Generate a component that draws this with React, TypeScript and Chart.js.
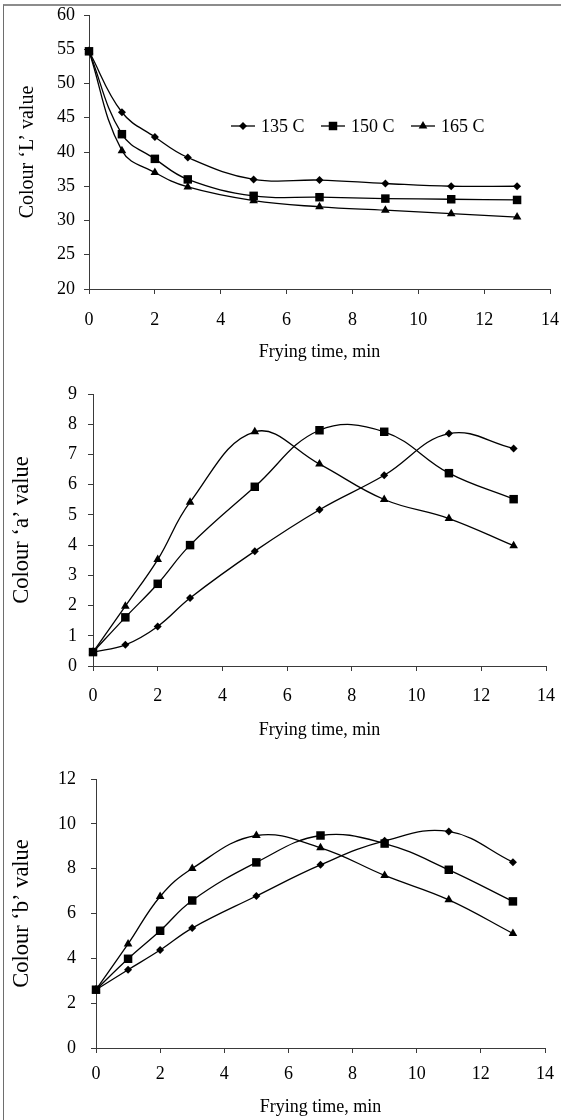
import React, { useEffect, useRef } from 'react';
import { Chart, registerables } from 'chart.js';

Chart.register(...registerables);

// ---------------- data ----------------
const FRYING_TIME = [0, 1, 2, 3, 5, 7, 9, 11, 13];
const SERIES_LABELS = ['135 C', '150 C', '165 C'];
const POINT_STYLES = ['rectRot', 'rect', 'triangle'];
const POINT_RADII = [4, 6, 5];

const L_135 = [54.7, 45.8, 42.2, 39.2, 36.0, 35.9, 35.4, 35.0, 35.0];
const L_150 = [54.7, 42.6, 39.0, 36.0, 33.6, 33.4, 33.2, 33.1, 33.0];
const L_165 = [54.7, 40.2, 37.0, 34.9, 32.9, 32.0, 31.5, 31.0, 30.5];

const A_135 = [0.46, 0.7, 1.31, 2.25, 3.8, 5.17, 6.31, 7.69, 7.2];
const A_150 = [0.46, 1.61, 2.72, 4.0, 5.93, 7.8, 7.75, 6.38, 5.52];
const A_165 = [0.46, 1.98, 3.52, 5.42, 7.75, 6.68, 5.51, 4.88, 3.98];

const B_135 = [2.6, 3.49, 4.37, 5.35, 6.78, 8.17, 9.24, 9.66, 8.29];
const B_150 = [2.6, 3.98, 5.23, 6.58, 8.28, 9.48, 9.12, 7.95, 6.54];
const B_165 = [2.6, 4.64, 6.76, 8.01, 9.48, 8.93, 7.7, 6.61, 5.11];

const X_TITLE = 'Frying time, min';
const FONT = "'Liberation Serif', 'Times New Roman', serif";
const AXIS_COLOR = '#3a3a3a';

type PanelCfg = {
  top: number;
  height: number;
  yMin: number;
  yMax: number;
  yStep: number;
  yTitle: string;
  yTitleSize: number;
  yTitlePad: number;
  yWidth: number;
  yTickPad: number;
  xHeight: number;
  xTickPad: number;
  padTop: number;
  padRight: number;
  padBottom: number;
  series: number[][];
  legend: boolean;
};

const PANELS: PanelCfg[] = [
  {
    top: 0, height: 375, yMin: 20, yMax: 60, yStep: 5,
    yTitle: 'Colour \u2018L\u2019 value', yTitleSize: 20, yTitlePad: 16,
    yWidth: 89, yTickPad: 9, xHeight: 74, xTickPad: 15,
    padTop: 15, padRight: 11, padBottom: 12,
    series: [L_135, L_150, L_165], legend: true,
  },
  {
    top: 375, height: 380, yMin: 0, yMax: 9, yStep: 1,
    yTitle: 'Colour \u2018a\u2019 value', yTitleSize: 22.5, yTitlePad: 8.5,
    yWidth: 93, yTickPad: 11, xHeight: 75, xTickPad: 14,
    padTop: 19, padRight: 15, padBottom: 14,
    series: [A_135, A_150, A_165], legend: false,
  },
  {
    top: 755, height: 365, yMin: 0, yMax: 12, yStep: 2,
    yTitle: 'Colour \u2018b\u2019 value', yTitleSize: 22.5, yTitlePad: 8.5,
    yWidth: 96, yTickPad: 15, xHeight: 70, xTickPad: 10,
    padTop: 24, padRight: 16, padBottom: 2,
    series: [B_135, B_150, B_165], legend: false,
  },
];

function drawMarker(ctx: CanvasRenderingContext2D, style: string, x: number, y: number, r: number) {
  ctx.beginPath();
  if (style === 'rectRot') {
    ctx.moveTo(x - r, y);
    ctx.lineTo(x, y - r);
    ctx.lineTo(x + r, y);
    ctx.lineTo(x, y + r);
  } else if (style === 'rect') {
    const s = r * Math.SQRT1_2;
    ctx.rect(x - s, y - s, 2 * s, 2 * s);
  } else {
    let rad = 0;
    ctx.moveTo(x + Math.sin(rad) * r, y - Math.cos(rad) * r);
    rad += (2 * Math.PI) / 3;
    ctx.lineTo(x + Math.sin(rad) * r, y - Math.cos(rad) * r);
    rad += (2 * Math.PI) / 3;
    ctx.lineTo(x + Math.sin(rad) * r, y - Math.cos(rad) * r);
  }
  ctx.closePath();
  ctx.fill();
}

const insideLegend = {
  id: 'insideLegend',
  afterDraw(chart: any) {
    const ctx: CanvasRenderingContext2D = chart.ctx;
    const area = chart.chartArea;
    const baseX = area.left + 142;
    const y = area.top + 111;
    const itemGap = 90;
    ctx.save();
    ctx.fillStyle = '#000';
    ctx.strokeStyle = '#000';
    ctx.lineWidth = 1.3;
    ctx.font = `18px ${FONT}`;
    ctx.textBaseline = 'middle';
    ctx.textAlign = 'left';
    chart.data.datasets.forEach((ds: any, i: number) => {
      const x0 = baseX + i * itemGap;
      ctx.beginPath();
      ctx.moveTo(x0, y);
      ctx.lineTo(x0 + 24, y);
      ctx.stroke();
      drawMarker(ctx, POINT_STYLES[i], x0 + 12, y, POINT_RADII[i]);
      ctx.fillText(ds.label, x0 + 30, y + 1);
    });
    ctx.restore();
  },
};

function Panel({ cfg }: { cfg: PanelCfg }) {
  const ref = useRef<HTMLCanvasElement | null>(null);
  useEffect(() => {
    if (!ref.current) return;
    const datasets = cfg.series.map((vals, i) => ({
      label: SERIES_LABELS[i],
      data: FRYING_TIME.map((t, j) => ({ x: t, y: vals[j] })),
      borderColor: '#000',
      backgroundColor: '#000',
      borderWidth: 1.3,
      pointStyle: POINT_STYLES[i],
      pointRadius: POINT_RADII[i],
      pointBorderWidth: 0,
      pointBackgroundColor: '#000',
      tension: 0.4,
      clip: false,
      fill: false,
    }));
    const chart = new Chart(ref.current, {
      type: 'line',
      data: { datasets } as any,
      options: {
        animation: false,
        responsive: false,
        devicePixelRatio: 1,
        layout: {
          padding: { top: cfg.padTop, right: cfg.padRight, bottom: cfg.padBottom, left: 0 },
        },
        plugins: {
          legend: { display: false },
          tooltip: { enabled: false },
        },
        scales: {
          x: {
            type: 'linear',
            min: 0,
            max: 14,
            ticks: {
              stepSize: 2,
              color: '#000',
              padding: cfg.xTickPad,
              maxRotation: 0,
              autoSkip: false,
              font: { family: FONT, size: 18 },
            },
            grid: {
              drawOnChartArea: false,
              drawTicks: true,
              tickLength: 5,
              color: AXIS_COLOR,
            },
            border: { display: true, color: AXIS_COLOR, width: 1 },
            title: {
              display: true,
              text: X_TITLE,
              color: '#000',
              font: { family: FONT, size: 18 },
              padding: { top: 0, bottom: 0 },
            },
            afterFit: (s: any) => {
              s.height = cfg.xHeight;
              s.paddingLeft = 0;
              s.paddingRight = 0;
              s.paddingTop = 0;
              s.paddingBottom = 0;
            },
          },
          y: {
            type: 'linear',
            min: cfg.yMin,
            max: cfg.yMax,
            ticks: {
              stepSize: cfg.yStep,
              color: '#000',
              padding: cfg.yTickPad,
              font: { family: FONT, size: 18 },
            },
            grid: {
              drawOnChartArea: false,
              drawTicks: true,
              tickLength: 5,
              color: AXIS_COLOR,
            },
            border: { display: true, color: AXIS_COLOR, width: 1 },
            title: {
              display: true,
              text: cfg.yTitle,
              color: '#000',
              font: { family: FONT, size: cfg.yTitleSize },
              padding: { top: cfg.yTitlePad, bottom: 0 },
            },
            afterFit: (s: any) => {
              s.width = cfg.yWidth;
              s.paddingLeft = 0;
              s.paddingRight = 0;
              s.paddingTop = 0;
              s.paddingBottom = 0;
            },
          },
        },
      } as any,
      plugins: cfg.legend ? [insideLegend] : [],
    });
    return () => chart.destroy();
  }, [cfg]);
  return (
    <canvas
      ref={ref}
      width={561}
      height={cfg.height}
      style={{ position: 'absolute', left: 0, top: cfg.top, width: 561, height: cfg.height }}
    />
  );
}

export default function App() {
  return (
    <div
      style={{
        position: 'absolute',
        left: 0,
        top: 0,
        width: 561,
        height: 1120,
        overflow: 'hidden',
        background: '#fff',
      }}
    >
      {PANELS.map((p, i) => (
        <Panel key={i} cfg={p} />
      ))}
      <div
        style={{
          position: 'absolute',
          left: 3,
          top: 4,
          width: 600,
          height: 1200,
          borderTop: '2px solid #8c8c8c',
          borderLeft: '1px solid #6e6e6e',
          pointerEvents: 'none',
        }}
      />
    </div>
  );
}
